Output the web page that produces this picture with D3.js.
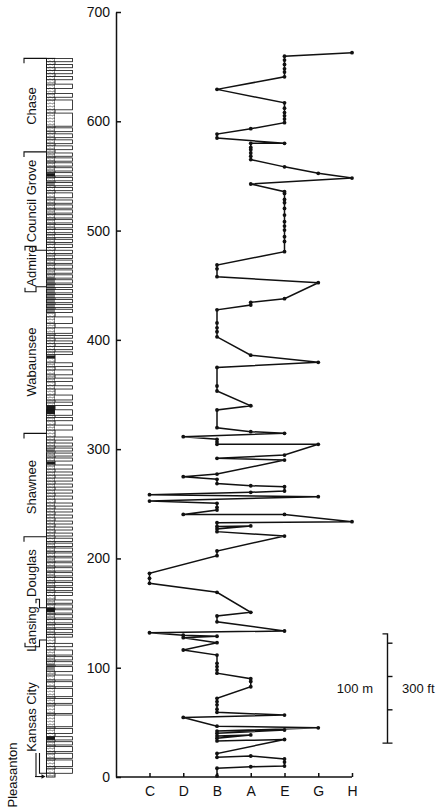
<!DOCTYPE html>
<html>
<head>
<meta charset="utf-8">
<script src="https://cdn.jsdelivr.net/npm/d3@7"></script>
<style>
  body { margin: 0; background: #fff; }
  svg { display: block; font-family: "Liberation Sans", Arial, sans-serif; }
</style>
</head>
<body>
<div id="chart"></div>
<script>
// units along the x axis (ordinal), in drawing order
const categories = ['C', 'D', 'B', 'A', 'E', 'G', 'H'];
const yTicks = [0, 100, 200, 300, 400, 500, 600, 700];

// sampled profile, bottom to top: depth value and unit
const depth = [1, 8, 9.4, 10, 13.7, 16.5, 19.2, 18, 21.5, 34.3,
  33, 35.5, 38.5, 37.5, 40, 43, 42, 45, 46.5, 54.5,
  56.7, 59.2, 62, 66, 69, 72, 82.6, 87.5, 90, 95,
  98, 101, 104, 111.6, 116.2, 122.9, 127.5, 128.8, 129.8, 132,
  133.6, 142, 147.3, 150.7, 169, 177.2, 181.8, 186.4, 202.5, 206.8,
  220.5, 224.5, 227, 229.7, 229.3, 232.7, 233.6, 240.3, 240.3, 244.3,
  246.8, 250.4, 252.5, 256.5, 258.3, 260.5, 261.7, 265.6, 266.5, 268.5,
  272.4, 274.8, 277.2, 290, 291.6, 294.6, 304.4, 304.4, 306.6, 309,
  311.4, 314.5, 316, 319.6, 335.8, 339.7, 353.2, 357.8, 374.8, 379.4,
  386, 402.8, 407.4, 411, 415.5, 427.5, 431.9, 434.3, 437.7, 452.3,
  457.8, 465, 468.5, 480.7, 490, 494.4, 500.5, 504.1, 508.1, 514.2,
  520.3, 525.5, 528.5, 534, 535.6, 542.6, 548, 552.4, 558.3, 565,
  568, 571, 574, 576, 579.8, 579.8, 584.7, 588.3, 593.2, 598.7,
  602, 605, 608, 612, 616.9, 629.2, 640.7, 645, 648, 652,
  656, 659.6, 662.8];
const unit = ['B', 'B', 'A', 'E', 'E', 'E', 'A', 'B', 'B', 'E',
  'B', 'B', 'A', 'B', 'B', 'E', 'B', 'G', 'B', 'D',
  'E', 'B', 'B', 'B', 'B', 'B', 'A', 'A', 'A', 'B',
  'B', 'B', 'B', 'B', 'D', 'B', 'D', 'B', 'D', 'C',
  'E', 'B', 'B', 'A', 'B', 'C', 'C', 'C', 'B', 'B',
  'E', 'B', 'B', 'A', 'B', 'B', 'H', 'E', 'D', 'B',
  'B', 'B', 'C', 'G', 'C', 'A', 'E', 'E', 'A', 'B',
  'B', 'D', 'B', 'E', 'B', 'E', 'G', 'B', 'B', 'B',
  'D', 'E', 'A', 'B', 'B', 'A', 'B', 'B', 'B', 'G',
  'A', 'B', 'B', 'B', 'B', 'B', 'A', 'A', 'E', 'G',
  'B', 'B', 'B', 'E', 'E', 'E', 'E', 'E', 'E', 'E',
  'E', 'E', 'E', 'E', 'E', 'A', 'H', 'G', 'E', 'A',
  'A', 'A', 'A', 'A', 'A', 'E', 'B', 'B', 'A', 'E',
  'E', 'E', 'E', 'E', 'E', 'B', 'E', 'E', 'E', 'E',
  'E', 'E', 'H'];

// lithologic column: beds [base, top]
const beds = [
  [654.5, 657.5], [649, 652], [643.5, 646.5], [638, 641], [630, 634], [622, 625.5],
  [610.5, 619.5], [595.5, 607.5], [590.5, 594], [585, 588.5], [579.5, 583], [574, 577.5],
  [568, 571], [563.5, 566.5], [559, 562], [554.5, 557.5], [550, 553], [545.5, 548.5],
  [541, 544], [536.5, 539.5], [530, 534.5], [525, 528], [520.5, 523.5], [516, 519],
  [511.5, 514.5], [507, 510], [502.5, 505.5], [498, 501], [493.5, 496.5], [489, 492],
  [484.5, 487.5], [479, 482], [474.5, 477.5], [470, 473], [465.5, 468.5], [461, 464],
  [456.5, 459.5], [452, 455], [448, 450.5], [443, 446], [438.5, 441.5], [434, 437],
  [429.5, 432.5], [425, 428], [415, 421], [406, 411], [401.5, 404], [396.5, 399],
  [391, 394], [386.5, 389], [375.5, 379], [368, 372.5], [362, 365], [355, 358],
  [345, 349.5], [340, 343], [331, 336], [326, 329], [317.5, 322], [308.3, 311.1],
  [302.8, 305.6], [298.3, 301], [293.7, 296.4], [289.1, 291.9], [281.8, 285.5], [276.3, 279.1],
  [270.8, 273.6], [265.3, 268.1], [259.8, 262.6], [254.3, 257.1], [247.9, 250.7], [242.5, 245.2],
  [237, 239.7], [231.5, 234.2], [226, 228.7], [220.5, 223.2], [215.5, 218.5], [211, 214],
  [206.5, 209.5], [202, 205], [197.5, 200.5], [193, 196], [188.5, 191.5], [184, 187],
  [179.5, 182.5], [175, 178], [170.5, 173.5], [166, 169], [159, 162], [154.5, 157.5],
  [150, 153], [145.5, 148.5], [141, 144], [136.5, 139.5], [132, 135], [128, 130.5],
  [119.2, 122.3], [111.6, 116.2], [107.1, 110.1], [102.5, 105.5], [96.4, 101], [88.8, 93.3],
  [82.6, 87.2], [73.5, 81.1], [67.4, 71.9], [58.2, 65.8], [46, 56.7], [39.9, 44.5],
  [33.9, 36.9], [29.3, 32.3], [23.2, 27.8], [17.1, 21.7], [9.5, 15.6], [3.4, 8]
];
const darkBands = [[549.5, 552.5], [383, 385.5], [332, 340], [286, 288.5], [151, 155], [34, 37]];
const grayBands = [[541, 545], [424, 458], [297, 300], [98, 104]];
const columnTop = 657.6;

// stratigraphic groups
const groupNames = ['Chase', 'Council Grove', 'Admire', 'Wabaunsee', 'Shawnee', 'Douglas', 'Lansing', 'Kansas City'];
const groupMid = [614, 527, 467.5, 379.7, 265.3, 186.6, 135.4, 54.9];
// boundary lines: value at the label side, value at the column side
const boundLeft = [657.6, 572, 485.5, 444, 314.4, 219.8, 162.6, 119.2];
const boundRight = [657.6, 572, 482, 448.6, 314.4, 219.8, 154.9, 125.3];

// scale bar: 100 m with feet ticks
const barBase = 31, barMeters = 100, barFeet = [0, 100, 200, 300];

const W = 442, H = 812;
const svg = d3.select('#chart').append('svg').attr('width', W).attr('height', H);
svg.append('rect').attr('width', W).attr('height', H).attr('fill', '#fff');

const y = d3.scaleLinear().domain([0, 700]).range([777, 12]);
const x = d3.scalePoint().domain(categories).range([149.5, 352]);
const axisX = 116;

// axes
const gy = svg.append('g')
  .attr('transform', 'translate(' + axisX + ',0)')
  .call(d3.axisLeft(y).tickValues(yTicks).tickSize(-5).tickPadding(6).tickSizeOuter(0));
gy.selectAll('text').attr('font-size', 14).attr('font-family', '"Liberation Sans", Arial, sans-serif').attr('fill', '#111');

const gx = svg.append('g')
  .attr('transform', 'translate(0,' + y(0) + ')')
  .call(d3.axisBottom(x).tickSize(-4).tickPadding(9).tickSizeOuter(0));
gx.select('.domain').attr('d', 'M' + axisX + ',0H' + x.range()[1]);
gx.selectAll('text').attr('font-size', 14).attr('font-family', '"Liberation Sans", Arial, sans-serif').attr('fill', '#111');
svg.selectAll('.domain, .tick line').attr('stroke', '#111').attr('stroke-width', 1.5);

// profile line and points
const pts = depth.map(function(v, i) { return { v: v, u: unit[i] }; });
const line = d3.line().x(function(d) { return x(d.u); }).y(function(d) { return y(d.v); });
svg.append('path').datum(pts)
  .attr('d', line).attr('fill', 'none').attr('stroke', '#111')
  .attr('stroke-width', 1.5).attr('stroke-linejoin', 'miter');
svg.selectAll('.pt').data(pts).enter().append('circle')
  .attr('class', 'pt')
  .attr('cx', function(d) { return x(d.u); })
  .attr('cy', function(d) { return y(d.v); })
  .attr('r', 1.9).attr('fill', '#111');

// lithologic column
const colLeft = 46.5, spineRight = 55, bedRight = 72.5;
const defs = svg.append('defs');
const pat = defs.append('pattern').attr('id', 'lime')
  .attr('width', 4).attr('height', 3).attr('patternUnits', 'userSpaceOnUse');
pat.append('rect').attr('width', 4).attr('height', 3).attr('fill', '#fff');
pat.append('path').attr('d', 'M0,1.5H4M2,0V1.5M0,1.5V3').attr('stroke', '#777').attr('stroke-width', 0.6);

const col = svg.append('g');
col.append('rect')
  .attr('x', colLeft).attr('y', y(columnTop))
  .attr('width', spineRight - colLeft).attr('height', y(0) - y(columnTop))
  .attr('fill', 'url(#lime)').attr('stroke', '#111').attr('stroke-width', 0.9);
col.selectAll('.gray').data(grayBands).enter().append('rect')
  .attr('x', colLeft).attr('width', spineRight - colLeft)
  .attr('y', function(d) { return y(d[1]); })
  .attr('height', function(d) { return y(d[0]) - y(d[1]); })
  .attr('fill', '#8a8a8a');
col.selectAll('.dark').data(darkBands).enter().append('rect')
  .attr('x', colLeft).attr('width', spineRight - colLeft)
  .attr('y', function(d) { return y(d[1]); })
  .attr('height', function(d) { return y(d[0]) - y(d[1]); })
  .attr('fill', '#1a1a1a');
col.selectAll('.bedfill').data(beds).enter().append('rect')
  .attr('x', spineRight).attr('width', bedRight - spineRight)
  .attr('y', function(d) { return y(d[1]); })
  .attr('height', function(d) { return y(d[0]) - y(d[1]); })
  .attr('fill', '#fff');
col.selectAll('.bed').data(beds).enter().append('rect')
  .attr('x', colLeft).attr('width', bedRight - colLeft)
  .attr('y', function(d) { return y(d[1]); })
  .attr('height', function(d) { return y(d[0]) - y(d[1]); })
  .attr('fill', 'none').attr('stroke', '#111').attr('stroke-width', 0.8);

// group boundaries and labels
const lab = svg.append('g').attr('stroke', '#111').attr('stroke-width', 1.1).attr('fill', 'none');
boundLeft.forEach(function(v, i) {
  const vr = boundRight[i];
  let d;
  if (v === vr) {
    d = 'M24,' + (y(v) + 5) + 'V' + y(v) + 'H' + colLeft;
  } else {
    const stepX = (i === 2 || i === 3) ? 36 : 39.5;
    const startX = (i === 6) ? 36 : 25;
    const tickDir = v > vr ? 4 : -4;
    d = 'M' + startX + ',' + (y(v) + tickDir) + 'V' + y(v) + 'H' + stepX + 'V' + y(vr) + 'H' + colLeft;
  }
  lab.append('path').attr('d', d);
});
// Pleasanton marks
lab.append('path').attr('d', 'M36,' + y(22) + 'V' + y(0) + 'M39.5,' + y(22) + 'V' + y(3.4) + 'H' + colLeft);
lab.append('path').attr('d', 'M35,' + y(0.4) + 'H44');
svg.append('path').attr('d', 'M45.5,' + y(0.4) + 'l-4,-2.2v4.4z').attr('fill', '#111');

svg.selectAll('.grp').data(groupNames).enter().append('text')
  .attr('class', 'grp')
  .attr('transform', function(d, i) { return 'translate(31,' + y(groupMid[i]) + ') rotate(-90)'; })
  .attr('dy', '0.35em').attr('text-anchor', 'middle')
  .attr('font-size', 13).attr('fill', '#111')
  .text(function(d) { return d; });
svg.append('text')
  .attr('transform', 'translate(12.5,775) rotate(-90)')
  .attr('dy', '0.35em').attr('text-anchor', 'middle')
  .attr('font-size', 13).attr('fill', '#111')
  .text('Pleasanton');

// scale bar
const barX = 387.5;
const barTop = barBase + barMeters;
const sb = svg.append('g').attr('stroke', '#111').attr('stroke-width', 1.4).attr('fill', 'none');
sb.append('path').attr('d', 'M' + (barX - 5) + ',' + y(barTop) + 'H' + barX + 'V' + y(barBase) + 'M' + (barX - 5) + ',' + y(barBase) + 'H' + (barX + 5));
barFeet.slice(1).forEach(function(f) {
  const v = barBase + f * 0.3048;
  sb.append('path').attr('d', 'M' + barX + ',' + y(v) + 'H' + (barX + 5));
});
svg.append('text').attr('x', 373).attr('y', y(barBase + barMeters / 2))
  .attr('dy', '0.35em').attr('text-anchor', 'end').attr('font-size', 13).attr('fill', '#111')
  .text('100 m');
svg.append('text').attr('x', 402).attr('y', y(barBase + barMeters / 2))
  .attr('dy', '0.35em').attr('text-anchor', 'start').attr('font-size', 13).attr('fill', '#111')
  .text('300 ft');
</script>
</body>
</html>
